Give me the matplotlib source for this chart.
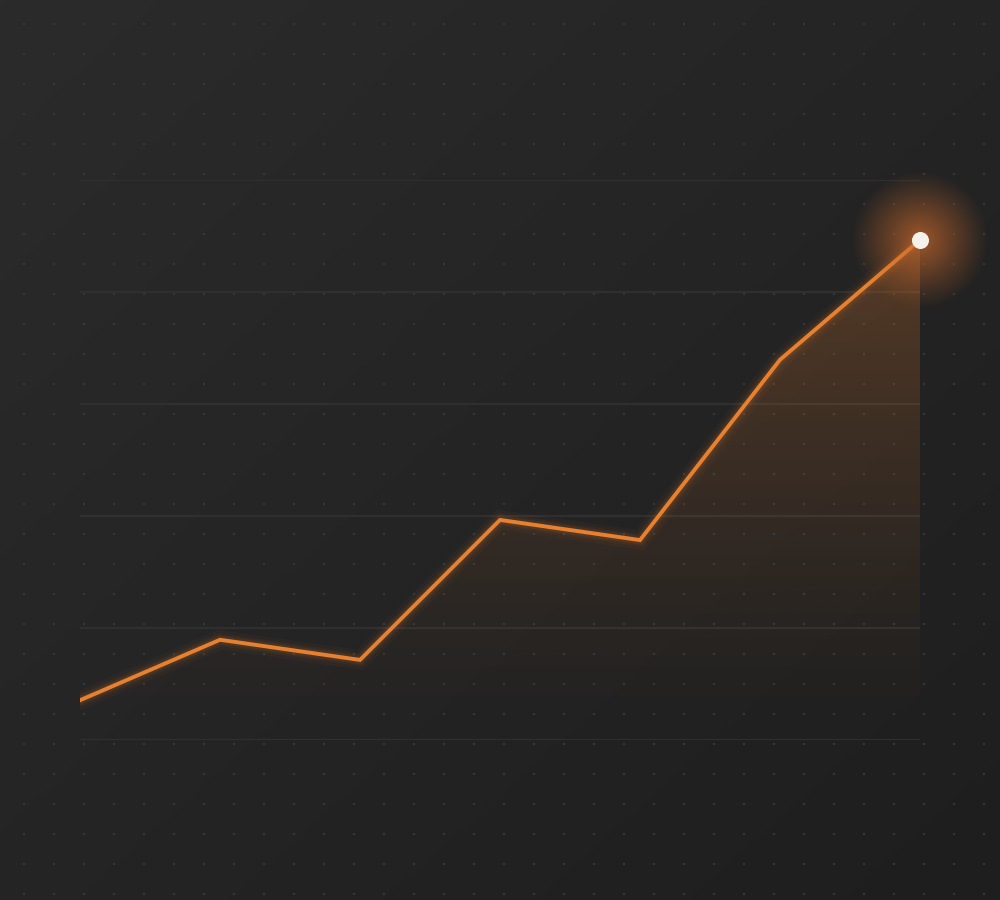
import numpy as np
import matplotlib
matplotlib.use("Agg")
import matplotlib.pyplot as plt
from matplotlib.colors import to_rgb

# data (values on a 0-100 scale)
x = [0, 1, 2, 3, 4, 5, 6]
y = [7.1, 17.9, 14.3, 39.3, 35.7, 67.9, 89.3]
grid_levels = [0, 20, 40, 60, 80, 100]

orange = "#e8812f"

fig = plt.figure(figsize=(10, 9), dpi=100)

# background: diagonal gradient + dot grid
bg = fig.add_axes([0, 0, 1, 1])
bg.set_xlim(0, 1000)
bg.set_ylim(900, 0)
bg.axis("off")
gx, gy = np.meshgrid(np.linspace(0, 1, 200), np.linspace(0, 1, 180))
t = (gx + gy) / 2
c0 = np.array(to_rgb("#2b2b2b"))
c1 = np.array(to_rgb("#1e1e1e"))
img = c0[None, None, :] * (1 - t[..., None]) + c1[None, None, :] * t[..., None]
bg.imshow(img, extent=[0, 1000, 900, 0], aspect="auto", zorder=0)
dx, dy = np.meshgrid(np.arange(24, 1000, 30), np.arange(24, 900, 30))
bg.scatter(dx.ravel(), dy.ravel(), s=2.5, marker="s", color="#383838", linewidths=0, zorder=1)

# main chart
ax = fig.add_axes([0.08, 160 / 900, 0.84, 560 / 900])
ax.patch.set_alpha(0)
ax.set_xlim(0, 6)
ax.set_ylim(0, 100)
ax.axis("off")

for g in grid_levels:
    ax.axhline(g, color="#2f2f2f", lw=1.6, zorder=1)

# gradient fill under the line
fill = ax.fill_between(x, y, 0, color="none", lw=0)
grad = np.zeros((256, 2, 4))
grad[..., :3] = to_rgb("#d9772e")
alpha = np.linspace(0, 0.38, 256) ** 1.3
grad[..., 3] = alpha[:, None]
im = ax.imshow(grad, extent=[0, 6, 0, max(y)], origin="lower", aspect="auto", zorder=2)
im.set_clip_path(fill.get_paths()[0], transform=ax.transData)

# soft glow on the line
for w, a in [(14, 0.04), (9, 0.06), (6, 0.1)]:
    ax.plot(x, y, color=orange, lw=w, alpha=a, solid_joinstyle="miter", zorder=3)
ax.plot(x, y, color=orange, lw=2.8, solid_joinstyle="miter", zorder=4)

# radial glow around the last point
r = 70
gxr, gyr = np.meshgrid(np.linspace(-1, 1, 200), np.linspace(-1, 1, 200))
d = np.sqrt(gxr ** 2 + gyr ** 2)
glow = np.zeros((200, 200, 4))
glow[..., :3] = to_rgb("#c8682c")
glow[..., 3] = np.clip(1 - d, 0, 1) ** 1.1 * 0.75
ex = r / 140
ey = r / 5.6
ax.imshow(glow, extent=[x[-1] - ex, x[-1] + ex, y[-1] - ey, y[-1] + ey],
          aspect="auto", zorder=5, clip_on=False)
ax.set_xlim(0, 6)
ax.set_ylim(0, 100)

ax.scatter([x[-1]], [y[-1]], s=150, color="#f5f2ec", zorder=6, clip_on=False, linewidths=0)

fig.savefig("out.png", dpi=100)
